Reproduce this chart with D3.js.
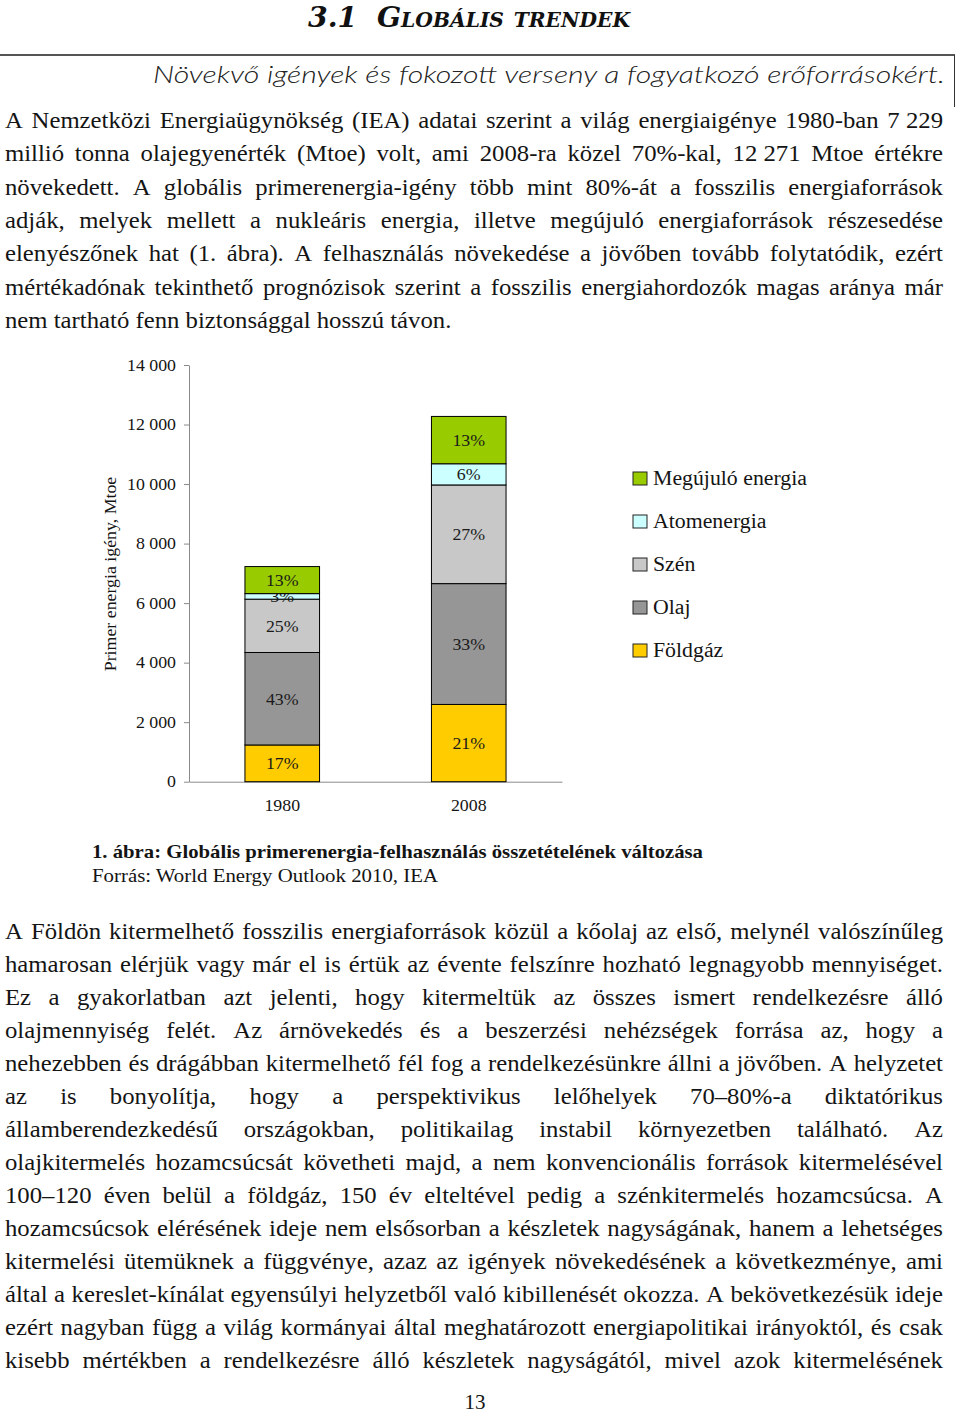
<!DOCTYPE html>
<html>
<head>
<meta charset="utf-8">
<script src="https://cdn.jsdelivr.net/npm/d3@7"></script>
<style>
  html, body { margin: 0; padding: 0; background: #fff; }
  svg { display: block; }
</style>
</head>
<body>
<svg id="page" width="960" height="1414"></svg>
<script>
// ---------------- DATA ----------------
const years = ["1980", "2008"];
const seriesNames = ["Földgáz", "Olaj", "Szén", "Atomenergia", "Megújuló energia"];
const gasValues = [1234, 2596];
const oilValues = [3107, 4059];
const coalValues = [1792, 3315];
const nuclearValues = [186, 712];
const renewableValues = [909, 1590];
const yTickValues = [0, 2000, 4000, 6000, 8000, 10000, 12000, 14000];
const legendOrder = ["Megújuló energia", "Atomenergia", "Szén", "Olaj", "Földgáz"];
const seriesColors = ["#ffcc00", "#969696", "#c8c8c8", "#ccffff", "#99cc00"];

const titleNumber = "3.1";
const titleText = "Globális trendek";
const subtitleText = "Növekvő igények és fokozott verseny a fogyatkozó erőforrásokért.";
const para1 = [
  "A Nemzetközi Energiaügynökség (IEA) adatai szerint a világ energiaigénye 1980-ban 7\u00a0229",
  "millió tonna olajegyenérték (Mtoe) volt, ami 2008-ra közel 70%-kal, 12\u00a0271 Mtoe értékre",
  "növekedett. A globális primerenergia-igény több mint 80%-át a fosszilis energiaforrások",
  "adják, melyek mellett a nukleáris energia, illetve megújuló energiaforrások részesedése",
  "elenyészőnek hat (1. ábra). A felhasználás növekedése a jövőben tovább folytatódik, ezért",
  "mértékadónak tekinthető prognózisok szerint a fosszilis energiahordozók magas aránya már",
  "nem tartható fenn biztonsággal hosszú távon."
];
const para2 = [
  "A Földön kitermelhető fosszilis energiaforrások közül a kőolaj az első, melynél valószínűleg",
  "hamarosan elérjük vagy már el is értük az évente felszínre hozható legnagyobb mennyiséget.",
  "Ez a gyakorlatban azt jelenti, hogy kitermeltük az összes ismert rendelkezésre álló",
  "olajmennyiség felét. Az árnövekedés és a beszerzési nehézségek forrása az, hogy a",
  "nehezebben és drágábban kitermelhető fél fog a rendelkezésünkre állni a jövőben. A helyzetet",
  "az is bonyolítja, hogy a perspektivikus lelőhelyek 70–80%-a diktatórikus",
  "államberendezkedésű országokban, politikailag instabil környezetben található. Az",
  "olajkitermelés hozamcsúcsát követheti majd, a nem konvencionális források kitermelésével",
  "100–120 éven belül a földgáz, 150 év elteltével pedig a szénkitermelés hozamcsúcsa. A",
  "hozamcsúcsok elérésének ideje nem elsősorban a készletek nagyságának, hanem a lehetséges",
  "kitermelési ütemüknek a függvénye, azaz az igények növekedésének a következménye, ami",
  "által a kereslet-kínálat egyensúlyi helyzetből való kibillenését okozza. A bekövetkezésük ideje",
  "ezért nagyban függ a világ kormányai által meghatározott energiapolitikai irányoktól, és csak",
  "kisebb mértékben a rendelkezésre álló készletek nagyságától, mivel azok kitermelésének"
];
const captionTitle = "1. ábra: Globális primerenergia-felhasználás összetételének változása";
const captionSource = "Forrás: World Energy Outlook 2010, IEA";
const yAxisTitle = "Primer energia igény, Mtoe";
const pageNumber = "13";

// ---------------- PAGE ----------------
const svg = d3.select("#page");
const serif = "'Liberation Serif', 'Times New Roman', serif";
const ink = "#141414";

// horizontally widen text glyphs (the scanned page is slightly stretched)
function stretch(sel, k) {
  sel.each(function () {
    const w = this.getComputedTextLength();
    d3.select(this).attr("textLength", w * k).attr("lengthAdjust", "spacingAndGlyphs");
  });
}

// Title
svg.append("text")
  .attr("x", 308).attr("y", 27)
  .attr("textLength", 322).attr("lengthAdjust", "spacingAndGlyphs")
  .style("font-family", "'DejaVu Serif Condensed', 'DejaVu Serif', serif")
  .style("font-weight", "bold").style("font-style", "italic")
  .style("font-variant", "small-caps")
  .style("font-size", "28px").attr("fill", "#111")
  .text(titleNumber + "\u00a0 " + titleText);

// Rules
svg.append("line").attr("x1", 0).attr("x2", 955).attr("y1", 55).attr("y2", 55)
  .attr("stroke", "#555").attr("stroke-width", 2);
svg.append("line").attr("x1", 954.5).attr("x2", 954.5).attr("y1", 55).attr("y2", 107)
  .attr("stroke", "#333").attr("stroke-width", 1);

// Subtitle
svg.append("text")
  .attr("x", 153).attr("y", 83)
  .attr("textLength", 792).attr("lengthAdjust", "spacingAndGlyphs")
  .style("font-family", "Lato, 'Open Sans', sans-serif")
  .style("font-weight", 300).style("font-style", "italic")
  .style("font-size", "24px").attr("fill", "#222")
  .text(subtitleText);

// Justified paragraph helper
const bodyStretch = 1.075;
function paragraph(lines, x0, x1, y0, lh, size, lastJustified) {
  const g = svg.append("g")
    .style("font-family", serif).style("font-size", size + "px").attr("fill", ink);
  lines.forEach((line, i) => {
    const y = y0 + i * lh;
    const words = line.split(" ");
    const els = words.map(w => g.append("text").attr("y", y).text(w));
    const widths = els.map(e => e.node().getComputedTextLength() * bodyStretch);
    els.forEach((e, k) => e.attr("textLength", widths[k]).attr("lengthAdjust", "spacingAndGlyphs"));
    const total = d3.sum(widths);
    const isLast = i === lines.length - 1 && !lastJustified;
    const gap = (isLast || words.length < 2) ? size * 0.25 * bodyStretch : (x1 - x0 - total) / (words.length - 1);
    let x = x0;
    els.forEach((e, k) => { e.attr("x", x); x += widths[k] + gap; });
  });
}
paragraph(para1, 5, 943, 128, 33.3, 23, false);
paragraph(para2, 5, 943, 939, 33, 23, true);

// Caption
svg.append("text").attr("x", 92).attr("y", 858)
  .attr("textLength", 611).attr("lengthAdjust", "spacingAndGlyphs")
  .style("font-family", serif).style("font-weight", "bold").style("font-size", "19px")
  .attr("fill", ink).text(captionTitle);
svg.append("text").attr("x", 92).attr("y", 882)
  .attr("textLength", 346).attr("lengthAdjust", "spacingAndGlyphs")
  .style("font-family", serif).style("font-size", "19px")
  .attr("fill", ink).text(captionSource);

// Page number
svg.append("text").attr("x", 475).attr("y", 1409).attr("text-anchor", "middle")
  .style("font-family", serif).style("font-size", "21px").attr("fill", ink).text(pageNumber);

// ---------------- CHART ----------------
const rows = years.map((yr, i) => ({
  year: yr,
  "Földgáz": gasValues[i],
  "Olaj": oilValues[i],
  "Szén": coalValues[i],
  "Atomenergia": nuclearValues[i],
  "Megújuló energia": renewableValues[i]
}));
const totals = rows.map(r => d3.sum(seriesNames, k => r[k]));
const color = d3.scaleOrdinal(seriesNames, seriesColors);

const y = d3.scaleLinear([0, 14000], [781.7, 365]);
const x = d3.scaleBand(years, [189, 562]).paddingInner(0.6).paddingOuter(0.3);

const stacked = d3.stack().keys(seriesNames)(rows);
const axisColor = "#8a8a8a";
const chartStretch = 1.08;
const chart = svg.append("g").style("font-family", serif);

// Y axis
const fmt = d3.formatLocale({ decimal: ",", thousands: "\u00a0", grouping: [3], currency: ["", ""] }).format(",d");
const yAxis = chart.append("g").attr("transform", "translate(189,0)")
  .call(d3.axisLeft(y).tickValues(yTickValues).tickFormat(fmt).tickSize(5).tickSizeOuter(0).tickPadding(8));
yAxis.select(".domain").attr("stroke", axisColor);
yAxis.selectAll(".tick line").attr("stroke", axisColor);
yAxis.selectAll(".tick text").style("font-size", "16.5px").style("font-family", serif).attr("fill", ink)
  .call(stretch, chartStretch);

// X axis
const xAxis = chart.append("g").attr("transform", `translate(0,${y(0)})`)
  .call(d3.axisBottom(x).tickSize(0).tickSizeOuter(0).tickPadding(18));
xAxis.select(".domain").attr("stroke", axisColor);
xAxis.selectAll(".tick text").style("font-size", "16.5px").style("font-family", serif).attr("fill", ink)
  .call(stretch, chartStretch);

// Bars
const layers = chart.append("g").selectAll("g").data(stacked).join("g")
  .attr("fill", d => color(d.key));
layers.selectAll("rect").data(d => d).join("rect")
  .attr("x", d => x(d.data.year))
  .attr("width", x.bandwidth())
  .attr("y", d => y(d[1]))
  .attr("height", d => y(d[0]) - y(d[1]))
  .attr("stroke", "#000").attr("stroke-width", 1);

// Segment labels (percent share)
layers.selectAll("text").data(d => d.map(s => ({ s, key: d.key }))).join("text")
  .attr("x", d => x(d.s.data.year) + x.bandwidth() / 2)
  .attr("y", d => (y(d.s[0]) + y(d.s[1])) / 2)
  .attr("dy", "0.35em").attr("text-anchor", "middle")
  .style("font-size", "16.5px").attr("fill", "#1a1a1a")
  .text(d => Math.round(100 * (d.s[1] - d.s[0]) / totals[years.indexOf(d.s.data.year)]) + "%")
  .call(stretch, chartStretch);

// Y axis title
chart.append("text")
  .attr("transform", "translate(116,574) rotate(-90)")
  .attr("text-anchor", "middle")
  .style("font-size", "16.5px").attr("fill", ink)
  .text(yAxisTitle)
  .call(stretch, chartStretch);

// Legend
const legend = chart.append("g").selectAll("g").data(legendOrder).join("g")
  .attr("transform", (d, i) => `translate(633,${472 + i * 43})`);
legend.append("rect").attr("width", 14).attr("height", 13)
  .attr("fill", d => color(d)).attr("stroke", "#222").attr("stroke-width", 1);
legend.append("text").attr("x", 20).attr("y", 13)
  .style("font-size", "20px").attr("fill", ink).text(d => d)
  .call(stretch, 1.09);
</script>
</body>
</html>
